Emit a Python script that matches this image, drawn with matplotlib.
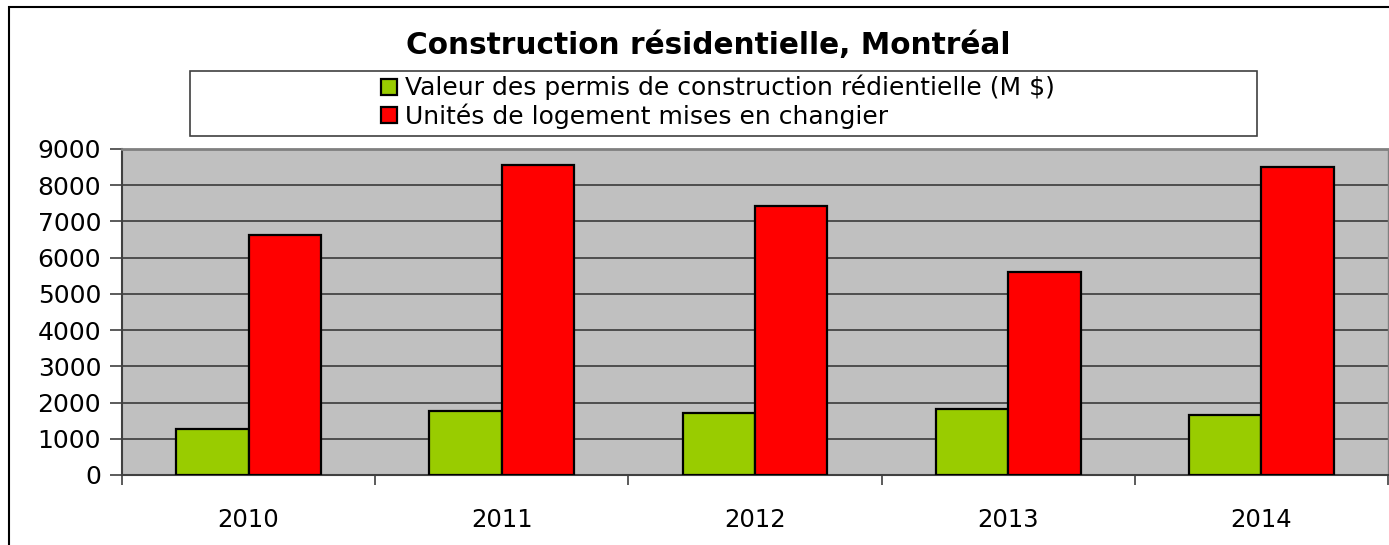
import matplotlib
matplotlib.use("Agg")
import matplotlib.pyplot as plt
from matplotlib.patches import Rectangle
import numpy as np

plt.rcParams['font.family'] = ['DejaVu Sans']

years = ['2010', '2011', '2012', '2013', '2014']
permis = [1260, 1770, 1700, 1810, 1660]
unites = [6630, 8560, 7430, 5615, 8515]
labels = ['Valeur des permis de construction rédientielle (M $)',
          'Unités de logement mises en changier']

W, H = 1389, 545
fig = plt.figure(figsize=(W / 100, H / 100), dpi=100)
fig.patch.set_facecolor('white')

# outer chart frame (only top and left visible, rest is cropped)
fig.add_artist(Rectangle((9 / W, -0.1), 1.2, 1 - 7 / H + 0.1, transform=fig.transFigure,
                         fill=False, edgecolor='black', linewidth=1.5))

ax = fig.add_axes([122 / W, 1 - 475 / H, 1266 / W, 326 / H])
ax.set_facecolor('#C0C0C0')

x = np.arange(len(years))
bw = 1 / 3.5
ax.bar(x - bw / 2, permis, bw, color='#99CC00', edgecolor='black', linewidth=1.6,
       label=labels[0], zorder=3)
ax.bar(x + bw / 2, unites, bw, color='#FF0000', edgecolor='black', linewidth=1.6,
       label=labels[1], zorder=3)

ax.set_xlim(-0.5, len(years) - 0.5)
ax.set_ylim(0, 9000)
ax.set_yticks(range(0, 9001, 1000))
ax.yaxis.grid(True, color='#3a3a3a', linewidth=1.2, zorder=1)
ax.set_axisbelow(True)

# category boundaries carry the tick marks, labels sit in the middle
ax.set_xticks(np.arange(-0.5, len(years), 1))
ax.set_xticklabels([])
ax.set_xticks(x, minor=True)
ax.set_xticklabels(years, minor=True)
ax.tick_params(axis='x', which='minor', length=0, pad=24, labelsize=17.5)
ax.tick_params(axis='x', which='major', length=7, width=1.2, color='#404040')
ax.tick_params(axis='y', length=9, width=1.2, color='#404040', labelsize=18, pad=6)

for s in ['left', 'bottom']:
    ax.spines[s].set_color('#404040')
    ax.spines[s].set_linewidth(1.5)
ax.spines['top'].set_color('#808080')
ax.spines['top'].set_linewidth(2)
ax.spines['right'].set_color('#808080')
ax.spines['right'].set_linewidth(1)

fig.text(708 / W, 1 - 45 / H, 'Construction résidentielle, Montréal', ha='center', va='center',
         fontsize=21.3, fontweight='bold')

# legend box
fig.add_artist(Rectangle((190 / W, 1 - 136 / H), (1257 - 190) / W, 65 / H,
                         transform=fig.transFigure, facecolor='white', edgecolor='#404040',
                         linewidth=1.2))
handles, lbls = ax.get_legend_handles_labels()
fig.legend(handles, lbls, loc='center left', bbox_to_anchor=(381 / W, 1 - 102 / H),
           frameon=False, fontsize=18, handlelength=0.62, handleheight=0.62,
           handletextpad=0.33, labelspacing=0.12, borderaxespad=0, borderpad=0)

fig.savefig('out.png', dpi=100)
